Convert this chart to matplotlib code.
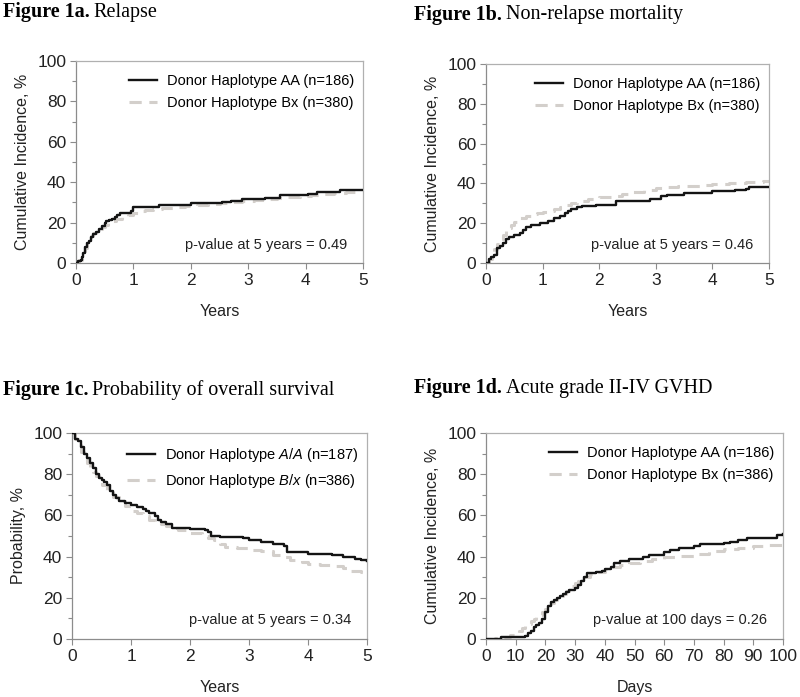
import matplotlib
matplotlib.use("Agg")
import matplotlib.pyplot as plt
from matplotlib.ticker import MultipleLocator

plt.rcParams["font.family"] = ["Liberation Sans", "DejaVu Sans"]
plt.rcParams["mathtext.fontset"] = "custom"
plt.rcParams["mathtext.rm"] = "Liberation Sans"
plt.rcParams["mathtext.it"] = "Liberation Sans:italic"

# ---- data, step curves: time / value ----
# 1a relapse
a_aa_t = [0, 0.03, 0.08, 0.1, 0.13, 0.16, 0.2, 0.23, 0.26, 0.3, 0.35, 0.4, 0.45, 0.5, 0.53, 0.58, 0.62, 0.68,
          0.72, 0.76, 0.95, 1.0, 1.45, 2.0, 2.55, 2.7, 2.9, 3.3, 3.55, 4.05, 4.2, 4.6, 5.0]
a_aa_v = [0, 1, 1.5, 3, 5, 8, 10, 11, 13, 14.5, 15.5, 17, 18.5, 20, 21, 21.5, 22, 23,
          24, 25, 25.5, 27.5, 28.5, 29.5, 30, 30.5, 31.5, 32, 33.5, 34, 35, 36, 36]
a_bx_t = [0, 0.03, 0.06, 0.1, 0.13, 0.16, 0.2, 0.23, 0.26, 0.3, 0.35, 0.4, 0.45, 0.5, 0.55, 0.6, 0.65, 0.7, 0.8,
          0.9, 1.0, 1.1, 1.2, 1.35, 1.5, 1.7, 1.9, 2.1, 2.3, 2.5, 2.7, 2.9, 3.1, 3.3, 3.5, 3.7, 3.9, 4.1, 4.3,
          4.5, 4.7, 5.0]
a_bx_v = [0, 0.5, 1.5, 3, 5, 7.5, 10, 12, 13.5, 15, 16, 17, 18, 19, 20, 20.5, 21, 22, 23,
          24, 25, 25.5, 26, 26.5, 27, 27.5, 28, 28.5, 29, 29.5, 30, 30.5, 31, 31.5, 32, 32.5, 33, 33.5, 34,
          34.5, 35, 35]

# 1b non-relapse mortality
b_aa_t = [0, 0.05, 0.08, 0.15, 0.2, 0.25, 0.3, 0.35, 0.4, 0.5, 0.6, 0.65, 0.7, 0.8, 0.95, 1.1, 1.2, 1.3, 1.4,
          1.45, 1.5, 1.6, 1.7, 1.95, 2.3, 2.9, 3.1, 3.2, 3.5, 4.0, 4.4, 4.6, 4.65, 5.0]
b_aa_v = [0, 2, 3, 4, 7.5, 8.5, 10, 12, 13, 14, 15, 16.5, 18, 19, 20, 21, 22.5, 23.5, 25,
          26, 27, 28, 28.5, 29, 31, 32, 33.5, 34, 35, 36, 36.5, 37, 38, 38]
b_bx_t = [0, 0.05, 0.1, 0.15, 0.2, 0.25, 0.3, 0.35, 0.4, 0.45, 0.5, 0.55, 0.6, 0.7, 0.8, 0.9, 1.0, 1.1, 1.2,
          1.3, 1.4, 1.5, 1.6, 1.7, 1.8, 2.0, 2.2, 2.4, 2.6, 2.8, 3.0, 3.2, 3.4, 3.8, 4.0, 4.3, 4.6, 4.9, 5.0]
b_bx_v = [0, 2, 4.5, 7, 9.5, 12, 14, 16, 17.5, 19, 20.5, 21.5, 22.5, 23.5, 24.5, 25, 25.5, 26, 27,
          28, 29, 30, 30.5, 31, 32, 33, 33.5, 34.5, 35.5, 36.5, 37.5, 38, 38.5, 39, 39.5, 40, 40.5, 41, 41]

# 1c overall survival
c_aa_t = [0, 0.05, 0.1, 0.15, 0.2, 0.25, 0.3, 0.35, 0.4, 0.45, 0.5, 0.55, 0.6, 0.65, 0.7, 0.75, 0.8, 0.9, 1.0,
          1.1, 1.2, 1.25, 1.3, 1.4, 1.45, 1.5, 1.6, 1.7, 2.0, 2.25, 2.3, 2.35, 2.5, 2.9, 3.0, 3.2, 3.4, 3.6,
          3.65, 4.0, 4.4, 4.6, 4.8, 4.9, 5.0]
c_aa_v = [100, 97, 96, 93, 90, 88, 85.5, 83, 80, 78, 77, 76, 75, 72, 70, 68.5, 67, 66, 65,
          64, 63, 62, 61, 59.5, 58, 57, 56, 54, 53.5, 53, 52, 50, 49.5, 49, 48, 47, 46, 45,
          42, 41.5, 41, 40, 39, 38.5, 38]
c_bx_t = [0, 0.05, 0.1, 0.15, 0.2, 0.25, 0.3, 0.35, 0.4, 0.45, 0.5, 0.6, 0.7, 0.8, 0.9, 1.0, 1.1, 1.2, 1.3,
          1.4, 1.5, 1.6, 1.7, 1.8, 2.0, 2.2, 2.3, 2.4, 2.5, 2.6, 2.8, 3.0, 3.2, 3.4, 3.6, 3.7, 3.9, 4.0, 4.2,
          4.4, 4.6, 4.7, 4.9, 5.0]
c_bx_v = [100, 97, 94, 91, 88, 85.5, 83, 81, 79, 77, 75, 72, 69, 67, 64.5, 62, 61, 59.5, 58,
          57, 56, 55, 54, 53, 51.5, 50, 49, 48, 46, 44.5, 44, 43, 42.5, 41, 40, 38.5, 37.5, 36.5, 36,
          35.5, 34.5, 33, 32.5, 32]

# 1d acute GVHD (days)
d_aa_t = [0, 5, 13, 14, 15, 16, 17, 18, 19, 20, 21, 22, 23, 24, 25, 26, 27, 28, 30, 31, 32, 33, 34, 37, 39,
          40, 42, 43, 45, 48, 53, 55, 60, 62, 65, 70, 72, 80, 82, 85, 88, 98, 100]
d_aa_v = [0, 1, 1.5, 3, 4, 6, 7, 8, 9.5, 13, 16, 18, 19, 20, 21, 22, 23, 24, 25, 26, 28, 30, 32, 32.5, 33,
          34, 35, 37, 38, 39, 40, 41, 42, 43, 44, 45, 46, 46.5, 47, 48, 49, 50.5, 51]
d_bx_t = [0, 3, 5, 8, 10, 11, 12, 13, 14, 15, 16, 17, 18, 19, 20, 21, 22, 23, 24, 25, 26, 27, 28, 29, 30,
          31, 32, 33, 35, 37, 40, 42, 45, 48, 52, 56, 60, 65, 70, 75, 80, 85, 90, 95, 100]
d_bx_v = [0, 0.5, 1, 2, 3, 4, 5.5, 6.5, 7.5, 8.5, 9.5, 10.5, 11.5, 13, 14.5, 16, 17.5, 19, 20, 21, 22, 23.5,
          24.5, 25.5, 27, 28, 29, 30, 31.5, 32.5, 34, 35, 36, 37, 38, 39, 40, 40.5, 41.5, 42.5, 43.5, 44, 45,
          45.5, 46]

BLACK = "#141414"
GRAY = "#d3cfcb"
W, H = 800, 697


def px_axes(fig, left, top, right, bottom):
    return fig.add_axes([left / W, 1 - bottom / H, (right - left) / W, (bottom - top) / H])


def style(ax, xmax, xstep, xlabel, ylabel):
    ax.set_xlim(0, xmax)
    ax.set_ylim(0, 100)
    ax.xaxis.set_major_locator(MultipleLocator(xstep))
    ax.yaxis.set_major_locator(MultipleLocator(20))
    ax.yaxis.set_minor_locator(MultipleLocator(10))
    for s in ["top", "right"]:
        ax.spines[s].set_color("#b0b0b0")
    for s in ["left", "bottom"]:
        ax.spines[s].set_color("#8c8c8c")
    for s in ax.spines.values():
        s.set_linewidth(0.9)
    ax.tick_params(which="major", direction="out", length=4, width=0.8, color="#8c8c8c",
                   labelsize=12.5, labelcolor="#222222", pad=3)
    ax.tick_params(which="minor", direction="out", length=3, width=0.8, color="#8c8c8c")
    ax.set_xlabel(xlabel, fontsize=11.5, color="#222222", labelpad=12)
    ax.set_ylabel(ylabel, fontsize=11.5, color="#222222", labelpad=5)


def panel(ax, t1, v1, t2, v2, lab1, lab2, ptext):
    ax.step(t2, v2, where="post", color=GRAY, lw=2.2, ls=(0, (4, 2.5)), label=lab2, zorder=2)
    ax.step(t1, v1, where="post", color=BLACK, lw=1.7, label=lab1, zorder=3)
    h, l = ax.get_legend_handles_labels()
    ax.legend(h[::-1], l[::-1], loc="upper right", bbox_to_anchor=(1.0, 0.98), frameon=False,
              fontsize=10.5, handlelength=1.9, handletextpad=0.7, labelspacing=0.55,
              borderaxespad=0.2)
    ax.text(0.945, 0.09, ptext, transform=ax.transAxes, ha="right", va="center",
            fontsize=10.5, color="#222222")


def title(fig, x, y, bold, rest):
    t = fig.text(x / W, 1 - y / H, bold, fontfamily="Liberation Serif", fontweight="bold",
                 fontsize=14.5, va="center", ha="left")
    fig.canvas.draw()
    bb = t.get_window_extent()
    fig.text(bb.x1 / fig.dpi / fig.get_figwidth() + 0.005, 1 - y / H, rest,
             fontfamily="Liberation Serif", fontsize=14.5, va="center", ha="left")


fig = plt.figure(figsize=(W / 100, H / 100), dpi=100)

ax_a = px_axes(fig, 76, 61, 363, 263)
style(ax_a, 5, 1, "Years", "Cumulative Incidence, %")
panel(ax_a, a_aa_t, a_aa_v, a_bx_t, a_bx_v,
      "Donor Haplotype AA (n=186)", "Donor Haplotype Bx (n=380)", "p-value at 5 years = 0.49")

ax_b = px_axes(fig, 486, 64, 769, 263)
style(ax_b, 5, 1, "Years", "Cumulative Incidence, %")
panel(ax_b, b_aa_t, b_aa_v, b_bx_t, b_bx_v,
      "Donor Haplotype AA (n=186)", "Donor Haplotype Bx (n=380)", "p-value at 5 years = 0.46")

ax_c = px_axes(fig, 72, 433, 367, 639)
style(ax_c, 5, 1, "Years", "Probability, %")
panel(ax_c, c_aa_t, c_aa_v, c_bx_t, c_bx_v,
      r"Donor Haplotype $\mathit{A/A}$ (n=187)", r"Donor Haplotype $\mathit{B/x}$ (n=386)",
      "p-value at 5 years = 0.34")

ax_d = px_axes(fig, 486, 433, 783, 639)
style(ax_d, 100, 10, "Days", "Cumulative Incidence, %")
panel(ax_d, d_aa_t, d_aa_v, d_bx_t, d_bx_v,
      "Donor Haplotype AA (n=186)", "Donor Haplotype Bx (n=386)", "p-value at 100 days = 0.26")

title(fig, 3, 12, "Figure 1a.", "Relapse")
title(fig, 414, 15, "Figure 1b.", "Non-relapse mortality")
title(fig, 3, 390, "Figure 1c.", "Probability of overall survival")
title(fig, 414, 388, "Figure 1d.", "Acute grade II-IV GVHD")

fig.savefig("out.png", dpi=100)
